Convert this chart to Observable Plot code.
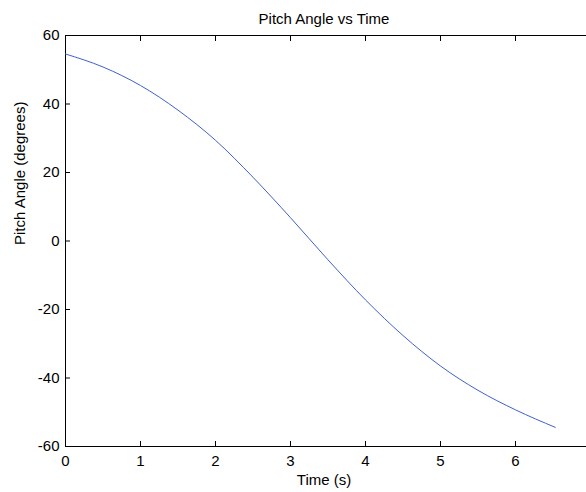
<!DOCTYPE html>
<html>
<head>
<meta charset="utf-8">
<script src="https://cdn.jsdelivr.net/npm/d3@7"></script>
<script src="https://cdn.jsdelivr.net/npm/@observablehq/plot@0.6"></script>
<style>
  html, body { margin: 0; padding: 0; background: #fff; overflow: hidden; }
</style>
</head>
<body>
<div id="chart"></div>
<script>
const title = "Pitch Angle vs Time";
const xLabel = "Time (s)";
const yLabel = "Pitch Angle (degrees)";
const time  = [0, 0.5, 1, 1.5, 2, 2.5, 3, 3.5, 4, 4.5, 5, 5.5, 6, 6.53];
const pitch = [54.6, 50.8, 45.4, 38.2, 29.4, 18.6, 6.8, -5.5, -17.2, -27.6, -36.5, -43.6, -49.3, -54.4];
const xTicks = [0, 1, 2, 3, 4, 5, 6, 7];
const yTicks = [-60, -40, -20, 0, 20, 40, 60];

const data = time.map((t, i) => ({t, p: pitch[i]}));
const font = "Liberation Sans, Arial, sans-serif";

const chart = Plot.plot({
  width: 586,
  height: 492,
  marginLeft: 65,
  marginRight: -4,
  marginTop: 35,
  marginBottom: 46,
  style: {fontFamily: font, fontSize: "15px", color: "#000", background: "#fff", overflow: "visible"},
  x: {domain: [0, 7], ticks: xTicks},
  y: {domain: [-60, 60], ticks: yTicks},
  marks: [
    Plot.frame({stroke: "#000", strokeWidth: 1}),
    Plot.axisX(xTicks, {anchor: "bottom", tickSize: -5, tickPadding: 14, label: null, fontSize: 15, tickFormat: d => String(d)}),
    Plot.axisX(xTicks, {anchor: "top", tickSize: -5, tickFormat: () => "", label: null}),
    Plot.axisY(yTicks, {anchor: "left", tickSize: -5, tickPadding: 11, label: null, fontSize: 15, tickFormat: d => String(d)}),
    Plot.axisY(yTicks, {anchor: "right", tickSize: -5, tickFormat: () => "", label: null}),
    Plot.line(data, {x: "t", y: "p", stroke: "#3f60cc", strokeWidth: 1, curve: "monotone-x"}),
    Plot.text([title], {text: d => d, frameAnchor: "top", dy: -22, dx: -4, fontSize: 15}),
    Plot.text([xLabel], {text: d => d, frameAnchor: "bottom", dy: 38, dx: -4, fontSize: 15}),
    Plot.text([yLabel], {text: d => d, frameAnchor: "left", dx: -45, dy: 4, rotate: -90, fontSize: 15})
  ]
});
document.getElementById("chart").appendChild(chart);
</script>
</body>
</html>
